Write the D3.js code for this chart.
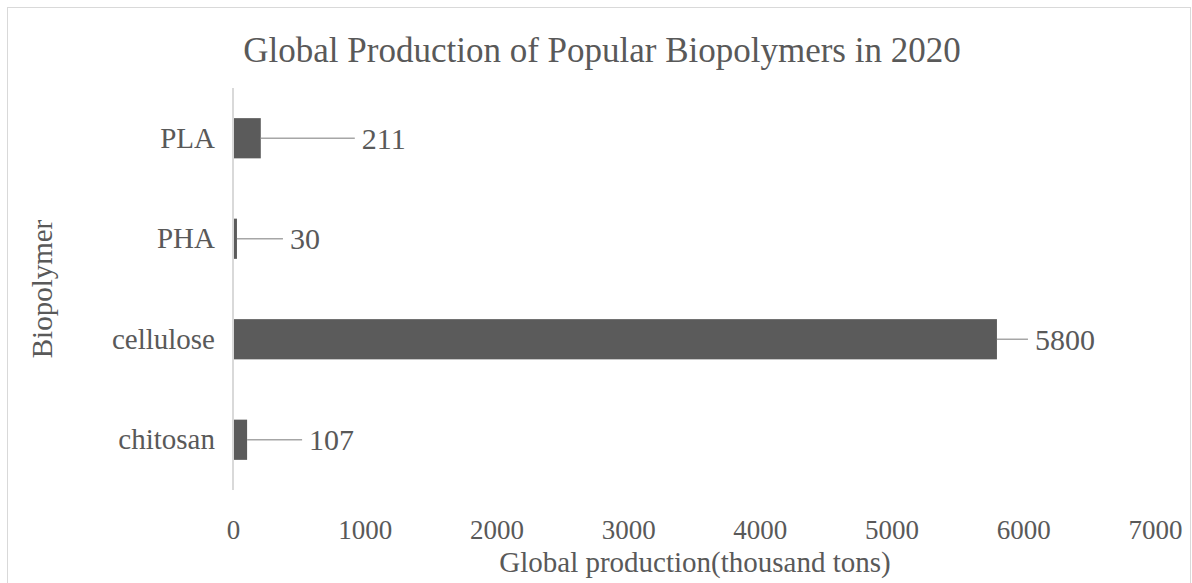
<!DOCTYPE html>
<html>
<head>
<meta charset="utf-8">
<script src="https://cdn.jsdelivr.net/npm/d3@7"></script>
<style>
  html, body { margin: 0; padding: 0; background: #fff; }
  svg { display: block; }
  text { font-family: "Liberation Serif", "Times New Roman", serif; fill: #595959; }
</style>
</head>
<body>
<svg id="chart" width="1192" height="583"></svg>
<script>
// ---- data ----
const categories = ["PLA", "PHA", "cellulose", "chitosan"];
const values = [211, 30, 5800, 107];
const xTicks = [0, 1000, 2000, 3000, 4000, 5000, 6000, 7000];
const titleText = "Global Production of Popular Biopolymers in 2020";
const xTitle = "Global production(thousand tons)";
const yTitle = "Biopolymer";

// ---- layout (not data) ----
const leaderLen = [94, 46, 31, 55];   // px length of leader line after bar end
const labelGap = 7;

const W = 1192, H = 583;
const svg = d3.select("#chart");

// outer border
svg.append("rect")
  .attr("x", 7.5).attr("y", 7.5)
  .attr("width", W - 9).attr("height", H + 10)
  .attr("fill", "none").attr("stroke", "#d9d9d9").attr("stroke-width", 1);

const x = d3.scaleLinear().domain([0, 7000]).range([233, 1155]);
const y = d3.scaleBand().domain(categories).range([88, 490]).paddingInner(0.6).paddingOuter(0.3);

// title
svg.append("text")
  .attr("x", 602).attr("y", 62)
  .attr("text-anchor", "middle")
  .style("font-size", "35px")
  .text(titleText);

// x axis (labels only)
const xAxis = d3.axisBottom(x).tickValues(xTicks).tickSize(0).tickPadding(0).tickFormat(d3.format("d"));
const gx = svg.append("g").attr("transform", "translate(0,520)").call(xAxis);
gx.select(".domain").remove();
gx.selectAll("text")
  .attr("dy", "0.71em")
  .style("font-size", "27px")
  .style("font-family", "'Liberation Serif', serif")
  .attr("fill", "#595959");

// y axis
const yAxis = d3.axisLeft(y).tickSize(0).tickPadding(18);
const gy = svg.append("g").attr("transform", "translate(233,0)").call(yAxis);
gy.select(".domain").remove();
gy.selectAll("text")
  .style("font-size", "29px")
  .style("font-family", "'Liberation Serif', serif")
  .attr("fill", "#595959");

// vertical axis line
svg.append("line")
  .attr("x1", x(0)).attr("x2", x(0))
  .attr("y1", 88).attr("y2", 490)
  .attr("stroke", "#d9d9d9").attr("stroke-width", 2);

// bars
svg.append("g").selectAll("rect")
  .data(categories)
  .join("rect")
  .attr("x", x(0) + 1)
  .attr("y", d => y(d))
  .attr("width", (d, i) => x(values[i]) - x(0) - 1)
  .attr("height", y.bandwidth())
  .attr("fill", "#5b5b5b");

// leader lines
svg.append("g").selectAll("line")
  .data(categories)
  .join("line")
  .attr("x1", (d, i) => x(values[i]))
  .attr("x2", (d, i) => x(values[i]) + leaderLen[i])
  .attr("y1", d => y(d) + y.bandwidth() / 2)
  .attr("y2", d => y(d) + y.bandwidth() / 2)
  .attr("stroke", "#a6a6a6").attr("stroke-width", 1.5);

// data labels
svg.append("g").selectAll("text")
  .data(categories)
  .join("text")
  .attr("x", (d, i) => x(values[i]) + leaderLen[i] + labelGap)
  .attr("y", d => y(d) + y.bandwidth() / 2)
  .attr("dy", "0.35em")
  .style("font-size", "30px")
  .attr("fill", "#404040")
  .text((d, i) => values[i]);

// axis titles
svg.append("text")
  .attr("x", 695).attr("y", 572)
  .attr("text-anchor", "middle")
  .style("font-size", "29px")
  .text(xTitle);

svg.append("text")
  .attr("transform", "translate(52,289) rotate(-90)")
  .attr("text-anchor", "middle")
  .style("font-size", "29px")
  .text(yTitle);
</script>
</body>
</html>
